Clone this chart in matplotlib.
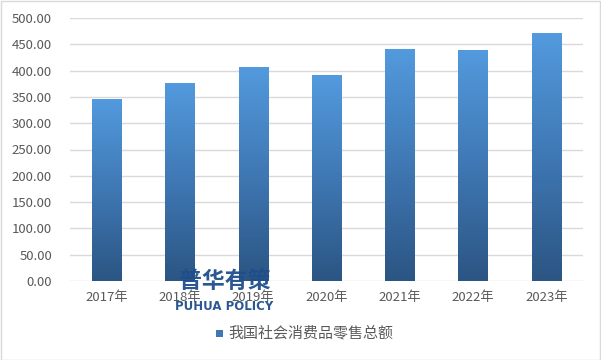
import matplotlib
matplotlib.use("Agg")
import matplotlib.pyplot as plt
import numpy as np
from matplotlib.colors import LinearSegmentedColormap
from matplotlib.patches import Rectangle

plt.rcParams['font.family'] = ['Noto Sans CJK SC', 'DejaVu Sans']

categories = ["2017年", "2018年", "2019年", "2020年", "2021年", "2022年", "2023年"]
values = [346.2, 376.8, 407.0, 391.5, 440.8, 439.7, 471.5]
yticks = [0, 50, 100, 150, 200, 250, 300, 350, 400, 450, 500]
series_name = "我国社会消费品零售总额"

fig = plt.figure(figsize=(6.01, 3.6), dpi=100)
ax = fig.add_axes([70/601, 79/360, 513/601, 263/360])

cmap = LinearSegmentedColormap.from_list("g", ["#2b5583", "#3f78b4", "#539ade"])
grad = np.linspace(0, 1, 256).reshape(-1, 1)
width = 0.4
x = np.arange(len(categories))
bars = ax.bar(x, values, width=width, color="none", edgecolor="none", zorder=3)
for b in bars:
    x0 = b.get_x(); h = b.get_height()
    im = ax.imshow(grad, cmap=cmap, aspect="auto", origin="lower",
                   extent=(x0, x0 + b.get_width(), 0, h), zorder=3)
    im.set_clip_path(b)

ax.set_xlim(-0.5, len(categories) - 0.5)
ax.set_ylim(0, 500)
ax.set_yticks(yticks)
ax.set_yticklabels([f"{v:.2f}" for v in yticks])
ax.set_xticks(x)
ax.set_xticklabels(categories)
ax.grid(axis="y", color="#d9d9d9", linewidth=1, zorder=0)
ax.set_axisbelow(True)
for s in ax.spines.values():
    s.set_visible(False)
ax.tick_params(axis="y", length=0, pad=13, labelsize=9.5, labelcolor="#595959")
ax.tick_params(axis="x", length=0, pad=7, labelsize=9.5, labelcolor="#595959")

# legend
fig.patches.append(Rectangle((216/601, (360-337)/360), 7/601, 7/360,
                             transform=fig.transFigure, facecolor="#3f78b4",
                             edgecolor="none"))
fig.text(228/601, (360-333)/360, series_name, ha="left", va="center",
         fontsize=10.8, color="#595959")

# watermark
fig.text(225/601, (360-281)/360, "普华有策", ha="center", va="center",
         fontsize=16.5, fontweight="bold", color="#1f4e8c", alpha=0.95)
fig.text(224/601, (360-306)/360, "PUHUA POLICY", ha="center", va="center",
         fontsize=8.5, fontweight="bold", color="#1f4e8c", alpha=0.95,
         family=["DejaVu Sans"])

# border
fig.patches.append(Rectangle((0.5/601, 0.5/360), 599/601, 358.5/360,
                             transform=fig.transFigure, facecolor="none",
                             edgecolor="#d9d9d9", linewidth=1))

fig.savefig("out.png", dpi=100)
